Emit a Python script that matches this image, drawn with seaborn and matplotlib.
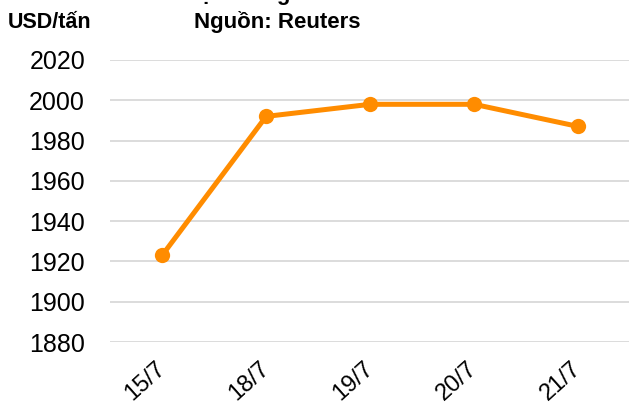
import pandas as pd
import numpy as np
import seaborn as sns
import matplotlib.pyplot as plt

# price data
dates = ["15/7", "18/7", "19/7", "20/7", "21/7"]
prices = [1923, 1992, 1998, 1998, 1987]
y_ticks = [1880, 1900, 1920, 1940, 1960, 1980, 2000, 2020]

df = pd.DataFrame({"date": dates, "price": prices})

sns.set_style("white")
plt.rcParams['font.family'] = ['Liberation Sans', 'DejaVu Sans']
plt.rcParams['text.color'] = 'black'
plt.rcParams['xtick.color'] = 'black'
plt.rcParams['ytick.color'] = 'black'

fig = plt.figure(figsize=(6.29, 4.07), dpi=100)
ax = fig.add_axes([0.175, 0.1597, 0.827, 0.6929])

sns.lineplot(data=df, x="date", y="price", sort=False, ax=ax,
             color="#FF8C00", linewidth=3.6, marker="o", markersize=11,
             markeredgewidth=0)

ax.set_xlim(-0.5, len(dates) - 0.5)
ax.set_ylim(1880, 2020)
ax.set_yticks(y_ticks)
ax.yaxis.grid(True, color="#d9d9d9", linewidth=1.3)
ax.set_axisbelow(True)
for s in ax.spines.values():
    s.set_visible(False)

ax.tick_params(axis="y", labelsize=18, pad=18, length=0)
ax.tick_params(axis="x", labelsize=17, pad=17, length=0)
plt.setp(ax.get_xticklabels(), rotation=42, ha="right", va="center",
         rotation_mode="anchor")
ax.set_xlabel("")
ax.set_ylabel("")

fig.text(8 / 629, 1 - 28 / 407, "USD/tấn", fontsize=15.5, fontweight="bold")
fig.text(277 / 629, 1 - 28 / 407, "Nguồn: Reuters", fontsize=16,
         fontweight="bold", ha="center")
fig.text(176 / 629, 1 + 0.5 / 407, "Thị trường", fontsize=16,
         fontweight="bold", ha="left", va="baseline")

fig.savefig("out.png", dpi=100)
